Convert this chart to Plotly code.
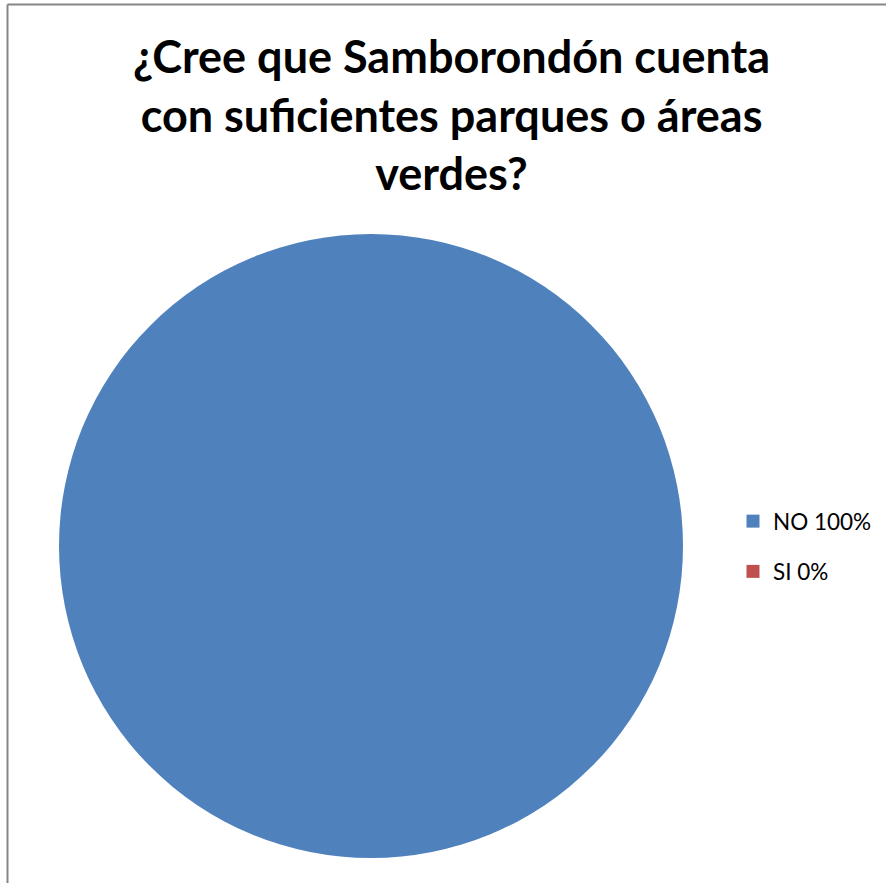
import plotly.graph_objects as go

# Survey answers
categories = ["NO", "SI"]
percentages = [100, 0]
colors = ["#4F81BD", "#C0504D"]
title_lines = ["¿Cree que Samborondón cuenta", "con suficientes parques o áreas", "verdes?"]

W, H = 886, 883

fig = go.Figure()

fig.add_trace(go.Pie(
    labels=categories,
    values=percentages,
    marker=dict(colors=colors, line=dict(width=0)),
    textinfo="none",
    hoverinfo="label+percent",
    sort=False,
    direction="clockwise",
    showlegend=False,
    domain=dict(x=[59 / W, 683 / W], y=[1 - 858 / H, 1 - 234 / H]),
))

# Legend entries: "<category> <percent>%"
for cat, pct, col in zip(categories, percentages, colors):
    fig.add_trace(go.Scatter(
        x=[None], y=[None], mode="markers",
        marker=dict(symbol="square", size=13, color=col),
        name=f"{cat} {pct}%",
        legendgroup=cat,
        showlegend=True,
    ))

fig.update_layout(
    width=W, height=H,
    margin=dict(l=0, r=0, t=0, b=0),
    paper_bgcolor="white",
    plot_bgcolor="white",
    xaxis=dict(visible=False),
    yaxis=dict(visible=False),
    legend=dict(
        x=733 / W, y=1 - 500 / H, xanchor="left", yanchor="top",
        font=dict(family="Lato, Carlito, Calibri, sans-serif", size=22.5, color="#000000"),
        tracegroupgap=18,
        itemwidth=30,
        bgcolor="rgba(0,0,0,0)",
    ),
    annotations=[dict(
        text="<br>".join(f"<b>{t}</b>" for t in title_lines),
        x=452 / W, y=1 - 27 / H, xref="paper", yref="paper",
        xanchor="center", yanchor="top", showarrow=False,
        font=dict(family="Lato, Carlito, Calibri, sans-serif", size=45, color="#000000"),
        align="center",
    )],
    shapes=[
        dict(type="line", xref="paper", yref="paper",
             x0=7.5 / W, x1=1.0, y0=1 - 4.5 / H, y1=1 - 4.5 / H,
             line=dict(color="#868686", width=2)),
        dict(type="line", xref="paper", yref="paper",
             x0=7.5 / W, x1=7.5 / W, y0=1 - 4.5 / H, y1=0,
             line=dict(color="#868686", width=2)),
    ],
)

fig.write_html("out.html")
